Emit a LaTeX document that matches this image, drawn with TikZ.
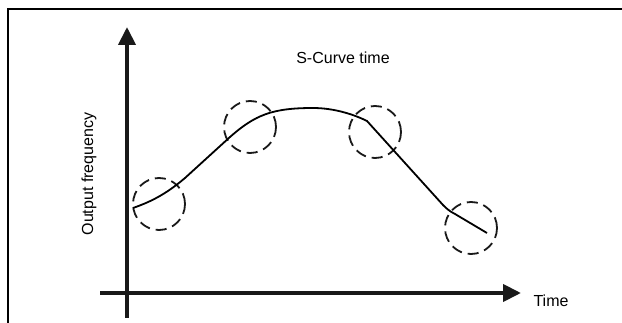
\documentclass[tikz,border=0pt]{standalone}
\usepackage{fontspec}
\setmainfont{Liberation Sans}
\usetikzlibrary{arrows.meta}

\begin{document}
\begin{tikzpicture}[x=1pt, y=-1pt, >={Triangle[length=18pt, width=17pt]},
            axis/.style={line width=4pt, black!90},
            ring/.style={circle, draw=black!90, line width=1.8pt, minimum size=52pt,
                         inner sep=0pt, dash pattern=on 11pt off 6pt},
            lbl/.style={font=\fontsize{16}{18}\selectfont, inner sep=0pt}]

            \useasboundingbox (0,0) rectangle (622,323);

            % moldura
            \draw[line width=2pt] (8,323) -- (8,9) -- (622,9);

            % eixos
            \coordinate (yb) at (127,318);
            \coordinate (yt) at (127,27);
            \coordinate (xl) at (100,293);
            \coordinate (xr) at (521,293);
            \draw[axis, ->] (yb) -- (yt);
            \draw[axis, ->] (xl) -- (xr);

            \node[lbl] (tm) at (551,301) {Time};
            \node[lbl, rotate=90] (of) at (89,174) {Output frequency};
            \node[lbl] (ttl) at (343,58) {S-Curve time};

            % zonas de transicao
            \node[ring] (r1) at (159,204) {};
            \node[ring] (r2) at (250,127) {};
            \node[ring] (r3) at (375,132) {};
            \node[ring] (r4) at (471,228) {};

            % curva
            \coordinate (c0) at (133,208);
            \coordinate (c1) at (313,108);
            \coordinate (c2) at (367,121);
            \coordinate (c3) at (443,205);
            \coordinate (c4) at (487,233);
            \draw[line width=1.8pt]
                (c0) .. controls (150,202) and (165,195) .. (185,178)
                -- (230,137) .. controls (255,115) and (272,108) .. (c1)
                .. controls (335,108) and (355,115) .. (c2)
                -- (c3) .. controls (446,208) and (449,211) .. (455,214)
                -- (c4);
        \end{tikzpicture}
\end{document}
